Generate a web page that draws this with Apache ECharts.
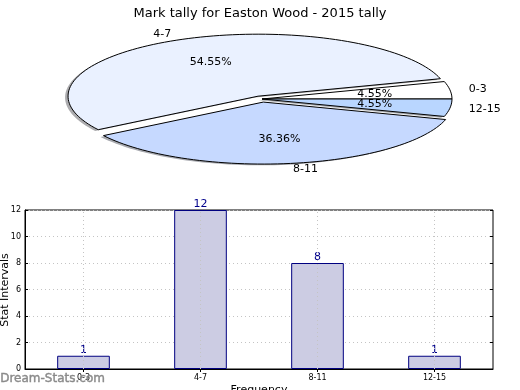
<!DOCTYPE html>
<html><head><meta charset="utf-8">
<script src="https://cdn.jsdelivr.net/npm/echarts@6/dist/echarts.min.js"></script>
<style>html,body{margin:0;padding:0;background:#fff}#c{width:520px;height:390px}</style>
</head><body><div id="c"></div>
<script>
var categories = ['0-3', '4-7', '8-11', '12-15'];
var values = [1, 12, 8, 1];
var pieColors = ['#ffffff', '#eaf1ff', '#c6d9ff', '#b9d6ff'];
var explode = [0, 0.05, 0.05, 0];
var yTicks = [0, 2, 4, 6, 8, 10, 12];
var titleText = 'Mark tally for Easton Wood - 2015 tally';
var yName = 'Stat Intervals';
var xName = 'Frequency';

var FONT = '"DejaVu Sans", sans-serif';
var total = values.reduce(function (a, b) { return a + b; }, 0);
var starts = [];
(function () { var s = 0; values.forEach(function (v) { starts.push(s); s += v; }); })();

var CX = 262, CY = 99, RX = 190, RY = 62;

function wedgePoints(a0, a1, ox, oy) {
  var pts = [[CX + ox, CY + oy]];
  var n = Math.max(4, Math.ceil((a1 - a0) / (Math.PI / 90)));
  for (var i = 0; i <= n; i++) {
    var a = a0 + (a1 - a0) * i / n;
    pts.push([CX + ox + RX * Math.cos(a), CY + oy - RY * Math.sin(a)]);
  }
  return pts;
}
function shift(pts, dx, dy) { return pts.map(function (p) { return [p[0] + dx, p[1] + dy]; }); }
function darken(hex) {
  var r = parseInt(hex.substr(1, 2), 16), g = parseInt(hex.substr(3, 2), 16), b = parseInt(hex.substr(5, 2), 16);
  return 'rgba(' + Math.round(r * 0.3) + ',' + Math.round(g * 0.3) + ',' + Math.round(b * 0.3) + ',0.45)';
}

var chart = echarts.init(document.getElementById('c'), null, { renderer: 'canvas' });
chart.setOption({
  animation: false,
  backgroundColor: '#fff',
  title: { text: titleText, left: 'center', top: 2, textStyle: { fontFamily: FONT, fontSize: 13, fontWeight: 'normal', color: '#000' } },
  grid: { left: 25, right: 27, top: 210, bottom: 21, show: true, borderColor: '#000', borderWidth: 1, containLabel: false, outerBoundsMode: 'none' },
  xAxis: [{
    type: 'category', data: categories,
    name: xName, nameLocation: 'middle', nameGap: 16,
    nameTextStyle: { fontFamily: FONT, fontSize: 11, color: '#000' },
    axisLine: { lineStyle: { color: '#000' } },
    axisTick: { show: true, inside: true, alignWithLabel: true, length: 3, lineStyle: { color: '#000' } },
    axisLabel: { fontFamily: FONT, fontSize: 8, color: '#000', margin: 5 },
    splitLine: { show: false }
  }, {
    type: 'category', data: categories, position: 'top',
    axisLine: { show: false }, axisLabel: { show: false },
    axisTick: { show: true, inside: true, alignWithLabel: true, length: 3, lineStyle: { color: '#000' } }
  }],
  yAxis: [{
    type: 'value', min: 0, max: 12, interval: 2,
    axisLine: { show: true, lineStyle: { color: '#000' } },
    axisTick: { show: true, inside: true, length: 3, lineStyle: { color: '#000' } },
    axisLabel: { fontFamily: FONT, fontSize: 8, color: '#000', margin: 4 },
    splitLine: { show: true, lineStyle: { color: '#c4c4c4', type: [1, 3], width: 1 } }
  }, {
    type: 'value', min: 0, max: 12, interval: 2, position: 'right',
    axisLine: { show: false }, axisLabel: { show: false }, splitLine: { show: false },
    axisTick: { show: true, inside: true, length: 3, lineStyle: { color: '#000' } }
  }],
  series: [{
    type: 'bar', data: values, barWidth: '45%', xAxisIndex: 0, yAxisIndex: 0,
    itemStyle: { color: '#ccccE3', borderColor: '#000080', borderWidth: 1 },
    label: { show: true, position: 'top', distance: 0, fontFamily: FONT, fontSize: 11, color: '#00008b', lineHeight: 11 },
    markLine: {
      silent: true, symbol: 'none', label: { show: false },
      lineStyle: { color: '#c4c4c4', type: [1, 3], width: 1 },
      data: categories.map(function (c) { return { xAxis: c }; })
    },
    z: 3
  }, {
    type: 'custom', coordinateSystem: 'none', data: values, silent: true, z: 5,
    renderItem: function (params, api) {
      var i = params.dataIndex;
      var v = api.value(0);
      var a0 = starts[i] / total * 2 * Math.PI, a1 = (starts[i] + v) / total * 2 * Math.PI;
      var mid = (a0 + a1) / 2;
      var ox = explode[i] * RX * Math.cos(mid), oy = -explode[i] * RY * Math.sin(mid);
      var pts = wedgePoints(a0, a1, ox, oy);
      var lx = CX + ox + 1.1 * RX * Math.cos(mid), ly = CY + oy - 1.1 * RY * Math.sin(mid);
      var px = CX + ox + 0.6 * RX * Math.cos(mid), py = CY + oy - 0.6 * RY * Math.sin(mid);
      var pct = (v / total * 100).toFixed(2) + '%';
      return {
        type: 'group',
        children: [
          { type: 'polygon', shape: { points: shift(pts, -3, 1.3) }, style: { fill: darken(pieColors[i]), stroke: null } },
          { type: 'polygon', shape: { points: pts }, style: { fill: pieColors[i], stroke: '#000', lineWidth: 1 } },
          { type: 'text', x: lx, y: ly, style: { text: categories[i], fontFamily: FONT, fontSize: 11, fill: '#000', align: Math.cos(mid) >= 0 ? 'left' : 'right', verticalAlign: 'middle' }, z2: 10 },
          { type: 'text', x: px, y: py, style: { text: pct, fontFamily: FONT, fontSize: 11, fill: '#000', align: 'center', verticalAlign: 'middle' }, z2: 10 }
        ]
      };
    }
  }],
  graphic: [{
    type: 'text', x: 5, y: 290, rotation: Math.PI / 2, z: 50,
    style: { text: yName, fontFamily: FONT, fontSize: 11, fill: '#000', align: 'center', verticalAlign: 'middle' }
  }, {
    type: 'text', left: 0, top: 373, z: 100,
    style: { text: 'Dream-Stats.com', fontFamily: FONT, fontSize: 12, fontWeight: 'normal', fill: '#8a8a8a', stroke: '#8a8a8a', lineWidth: 0.4 }
  }]
});
</script></body></html>
